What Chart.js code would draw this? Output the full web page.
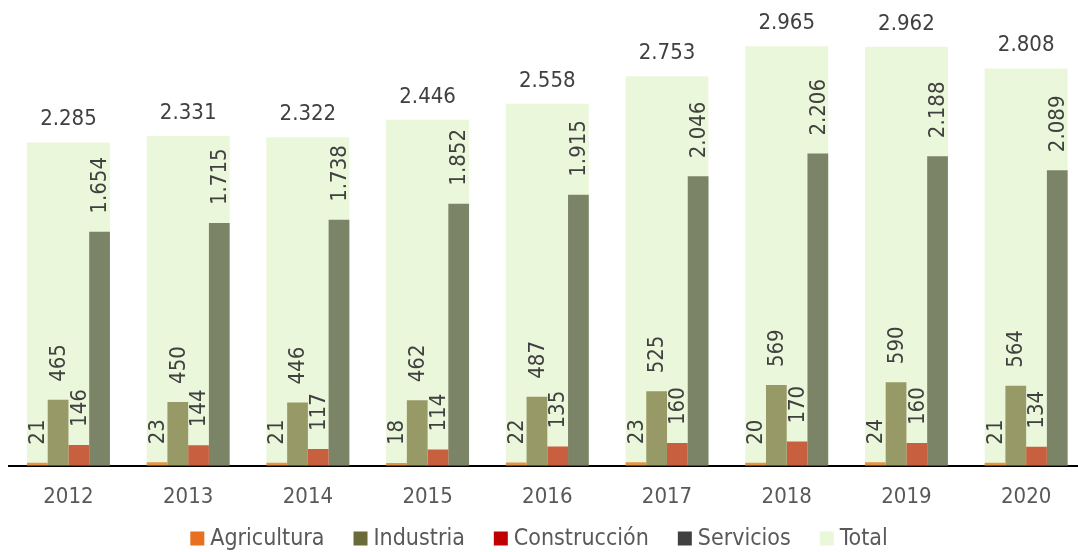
<!DOCTYPE html>
<html>
<head>
<meta charset="utf-8">
<script src="https://cdn.jsdelivr.net/npm/chart.js@4.4.0/dist/chart.umd.min.js"></script>
<style>
  html, body { margin: 0; padding: 0; background: #fff; overflow: hidden; }
  #wrap { width: 1090px; height: 552px; position: relative; }
</style>
</head>
<body>
<div id="wrap"><canvas id="c" width="1090" height="552"></canvas></div>
<script>
const categories = ['2012','2013','2014','2015','2016','2017','2018','2019','2020'];
const agricultura = [21, 23, 21, 18, 22, 23, 20, 24, 21];
const industria = [465, 450, 446, 462, 487, 525, 569, 590, 564];
const construccion = [146, 144, 117, 114, 135, 160, 170, 160, 134];
const servicios = [1654, 1715, 1738, 1852, 1915, 2046, 2206, 2188, 2089];
const total = [2285, 2331, 2322, 2446, 2558, 2753, 2965, 2962, 2808];
const seriesNames = ['Agricultura', 'Industria', 'Construcción', 'Servicios', 'Total'];

const FONT = '"DejaVu Sans Condensed", "DejaVu Sans", sans-serif';
const barColors = ['#E39446', '#979966', '#C8603F', '#7B8467', '#EBF7DA'];
const legendColors = ['#E8701E', '#6B6B3A', '#C00000', '#404040', '#EBF7DA'];

function fmt(v) { return String(v).replace(/\B(?=(\d{3})+(?!\d))/g, '.'); }

const labelPlugin = {
  id: 'valLabels',
  afterDatasetsDraw(chart) {
    const ctx = chart.ctx;
    ctx.save();
    ctx.fillStyle = '#404040';
    ctx.font = '22px ' + FONT;
    chart.data.datasets.forEach((ds, di) => {
      const meta = chart.getDatasetMeta(di);
      meta.data.forEach((bar, i) => {
        const txt = fmt(ds.data[i]);
        if (ds.isTotal) {
          ctx.textAlign = 'center';
          ctx.textBaseline = 'alphabetic';
          ctx.fillText(txt, bar.x, bar.y - 17);
        } else {
          ctx.save();
          ctx.translate(bar.x, bar.y - 18);
          ctx.rotate(-Math.PI / 2);
          ctx.textAlign = 'left';
          ctx.textBaseline = 'middle';
          ctx.fillText(txt, 0, 1);
          ctx.restore();
        }
      });
    });
    ctx.restore();
  }
};

const legendPlugin = {
  id: 'customLegend',
  afterDraw(chart) {
    const ctx = chart.ctx;
    ctx.save();
    ctx.font = '23px ' + FONT;
    const box = 14, gap = 6, spacing = 29;
    const widths = seriesNames.map(n => box + gap + ctx.measureText(n).width);
    const totalW = widths.reduce((a, b) => a + b, 0) + spacing * (seriesNames.length - 1);
    let x = 539 - totalW / 2;
    const baseY = 545;
    seriesNames.forEach((n, k) => {
      ctx.fillStyle = legendColors[k];
      ctx.fillRect(x, baseY - 13.5, box, box);
      ctx.fillStyle = '#595959';
      ctx.textAlign = 'left';
      ctx.textBaseline = 'alphabetic';
      ctx.fillText(n, x + box + gap, baseY);
      x += widths[k] + spacing;
    });
    ctx.restore();
  }
};

const subData = [agricultura, industria, construccion, servicios];
const datasets = subData.map((d, k) => ({
  label: seriesNames[k],
  data: d,
  backgroundColor: barColors[k],
  order: 0,
  categoryPercentage: 0.693,
  barPercentage: 1.0
}));
datasets.push({
  label: 'Total',
  data: total,
  backgroundColor: barColors[4],
  order: 1,
  grouped: false,
  isTotal: true,
  categoryPercentage: 1.0,
  barPercentage: 0.693
});

new Chart(document.getElementById('c'), {
  type: 'bar',
  data: { labels: categories, datasets },
  options: {
    responsive: false,
    animation: false,
    layout: { padding: { top: 13, left: 8.6, right: 4, bottom: 24 } },
    plugins: {
      tooltip: { enabled: false },
      legend: { display: false }
    },
    scales: {
      x: {
        type: 'category',
        offset: true,
        grid: { display: false, drawTicks: false },
        border: { display: true, color: '#000', width: 2 },
        ticks: { font: { size: 22, family: FONT }, color: '#595959', padding: 18 }
      },
      y: {
        display: false,
        min: 0,
        max: 3200
      }
    }
  },
  plugins: [labelPlugin, legendPlugin]
});
</script>
</body>
</html>
